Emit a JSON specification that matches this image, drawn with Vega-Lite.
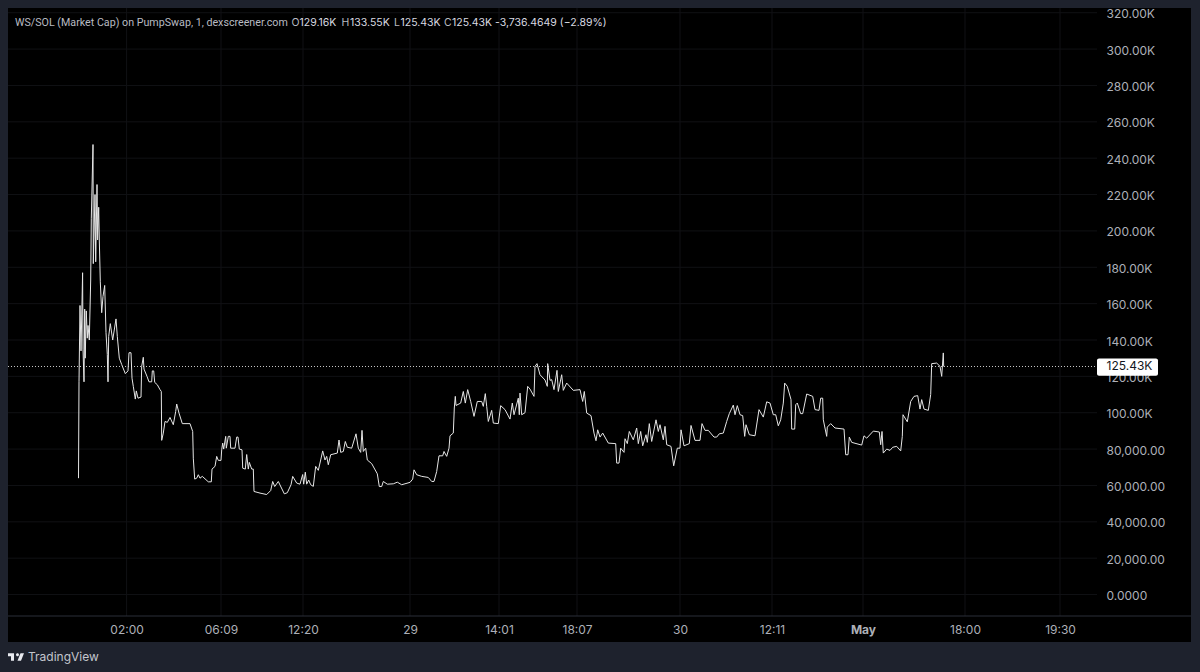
{
  "$schema": "https://vega.github.io/schema/vega-lite/v6.json",
  "width": 1183,
  "height": 634,
  "autosize": "none",
  "padding": {"left": 8, "top": 8, "right": 9, "bottom": 30},
  "background": "#1e222d",
  "config": {
    "view": {"fill": "#000000", "stroke": null},
    "font": "Inter",
    "axis": {"labelFont": "Inter", "labelFontSize": 12, "labelColor": "#adb0b8", "labelOverlap": false}
  },
  "datasets": {
    "price": [
      {"bar":78.5,"mcap":64},{"bar":79,"mcap":117},{"bar":80,"mcap":159},{"bar":81,"mcap":134},{"bar":82.6,"mcap":177},{"bar":83,"mcap":135},{"bar":84,"mcap":117},{"bar":84.7,"mcap":157},{"bar":85.2,"mcap":130},{"bar":86.3,"mcap":156},{"bar":87.3,"mcap":141},{"bar":88,"mcap":148},{"bar":89.3,"mcap":140},{"bar":90.7,"mcap":173},{"bar":91.3,"mcap":207},{"bar":93,"mcap":247.5},{"bar":93.3,"mcap":182},{"bar":95,"mcap":220},{"bar":95.7,"mcap":183},{"bar":97,"mcap":225.5},{"bar":97.6,"mcap":195},{"bar":98.7,"mcap":213},{"bar":99.3,"mcap":195},{"bar":100.3,"mcap":172},{"bar":101.7,"mcap":155},{"bar":103,"mcap":164},{"bar":104.7,"mcap":170},{"bar":106,"mcap":144},{"bar":107.3,"mcap":132},{"bar":108,"mcap":117},{"bar":108.7,"mcap":142},{"bar":110.3,"mcap":149},{"bar":112.7,"mcap":140},{"bar":116,"mcap":151.6},{"bar":117.3,"mcap":142},{"bar":119.3,"mcap":130},{"bar":121.7,"mcap":126.5},{"bar":125.3,"mcap":121.5},{"bar":128,"mcap":123},{"bar":129,"mcap":133},{"bar":131,"mcap":133},{"bar":132,"mcap":119},{"bar":133.3,"mcap":114.5},{"bar":135.3,"mcap":107.5},{"bar":136.3,"mcap":112},{"bar":138,"mcap":108},{"bar":141,"mcap":108.6},{"bar":141.7,"mcap":125.5},{"bar":143.3,"mcap":130.5},{"bar":144,"mcap":124},{"bar":147,"mcap":120},{"bar":149,"mcap":117},{"bar":151.7,"mcap":117},{"bar":152.3,"mcap":123},{"bar":153.7,"mcap":123},{"bar":154.7,"mcap":116.7},{"bar":157.3,"mcap":115.4},{"bar":160,"mcap":112.7},{"bar":161.3,"mcap":111.7},{"bar":161.7,"mcap":84.8},{"bar":163.3,"mcap":88.8},{"bar":165,"mcap":95.2},{"bar":167.3,"mcap":94.7},{"bar":170,"mcap":97.4},{"bar":173.3,"mcap":93.4},{"bar":175.7,"mcap":100.7},{"bar":176.7,"mcap":104.8},{"bar":179,"mcap":99.8},{"bar":182.3,"mcap":94},{"bar":190,"mcap":94},{"bar":192.7,"mcap":89.7},{"bar":193.3,"mcap":75},{"bar":194.7,"mcap":63.5},{"bar":196.7,"mcap":64},{"bar":198.3,"mcap":65.9},{"bar":200,"mcap":64},{"bar":202.3,"mcap":65},{"bar":208.3,"mcap":62},{"bar":211.3,"mcap":62},{"bar":212,"mcap":69},{"bar":215,"mcap":70.5},{"bar":216.7,"mcap":76},{"bar":218.3,"mcap":73.8},{"bar":221,"mcap":73.8},{"bar":221.7,"mcap":79.6},{"bar":222.7,"mcap":83.3},{"bar":223.7,"mcap":80},{"bar":225.7,"mcap":87},{"bar":226.3,"mcap":80.5},{"bar":228.3,"mcap":87},{"bar":230,"mcap":87},{"bar":230.7,"mcap":80.5},{"bar":235,"mcap":80.5},{"bar":236.7,"mcap":86.6},{"bar":238,"mcap":86.6},{"bar":239.3,"mcap":80},{"bar":242,"mcap":79.6},{"bar":242.7,"mcap":69.5},{"bar":245.3,"mcap":69},{"bar":246.7,"mcap":77},{"bar":248.3,"mcap":69},{"bar":249.3,"mcap":72.7},{"bar":251.7,"mcap":69},{"bar":253.3,"mcap":69},{"bar":254,"mcap":56.7},{"bar":260,"mcap":55.8},{"bar":266.7,"mcap":55},{"bar":270.7,"mcap":57.2},{"bar":272.7,"mcap":62.2},{"bar":274.7,"mcap":59.4},{"bar":278.3,"mcap":62.2},{"bar":284.3,"mcap":55.4},{"bar":287.3,"mcap":56},{"bar":291,"mcap":60.4},{"bar":292.7,"mcap":65},{"bar":296.7,"mcap":61.3},
      {"bar":300,"mcap":60.7},{"bar":302.7,"mcap":66},{"bar":303.7,"mcap":60.7},{"bar":305.3,"mcap":67.3},{"bar":306.7,"mcap":60.7},{"bar":308.7,"mcap":63},{"bar":310.7,"mcap":60.4},{"bar":313.3,"mcap":59.5},{"bar":315.7,"mcap":70.5},{"bar":318.3,"mcap":68.3},{"bar":320.7,"mcap":74},{"bar":322.7,"mcap":79},{"bar":325,"mcap":74},{"bar":326.7,"mcap":76},{"bar":328.3,"mcap":71.4},{"bar":330.7,"mcap":76.9},{"bar":337.3,"mcap":77.8},{"bar":339,"mcap":85},{"bar":340.7,"mcap":78.2},{"bar":343.3,"mcap":78.7},{"bar":345.3,"mcap":84.2},{"bar":347.3,"mcap":81},{"bar":351.7,"mcap":80.5},{"bar":356,"mcap":88.4},{"bar":358.3,"mcap":80.5},{"bar":360.7,"mcap":78.2},{"bar":362,"mcap":90.3},{"bar":363.3,"mcap":78.7},{"bar":365.7,"mcap":80.5},{"bar":367.3,"mcap":74},{"bar":371.7,"mcap":72},{"bar":377.3,"mcap":66.4},{"bar":379.3,"mcap":59.4},{"bar":381.7,"mcap":59.4},{"bar":383.3,"mcap":62.2},{"bar":387.3,"mcap":60.7},{"bar":393.3,"mcap":60.9},{"bar":397.3,"mcap":61.8},{"bar":401.7,"mcap":60.4},{"bar":410,"mcap":61.7},{"bar":412.7,"mcap":63.5},{"bar":414,"mcap":68.6},{"bar":416.7,"mcap":65.9},{"bar":421.7,"mcap":65},{"bar":428.3,"mcap":64.4},{"bar":431.7,"mcap":62.2},{"bar":434,"mcap":62.2},{"bar":436.7,"mcap":67.7},{"bar":439,"mcap":76.3},{"bar":442.7,"mcap":76.3},{"bar":444,"mcap":78.7},{"bar":446.7,"mcap":76},{"bar":449,"mcap":80.5},{"bar":450,"mcap":87.3},{"bar":453.3,"mcap":88.8},{"bar":454.3,"mcap":102.6},{"bar":455.3,"mcap":109},{"bar":456,"mcap":104},{"bar":460.7,"mcap":105.3},{"bar":463.3,"mcap":111.7},{"bar":465.3,"mcap":105.3},{"bar":467.7,"mcap":112.7},{"bar":470.7,"mcap":106.2},{"bar":474,"mcap":98},{"bar":477.3,"mcap":106.2},{"bar":481.7,"mcap":106.2},{"bar":483.3,"mcap":103.5},{"bar":485.3,"mcap":110.5},{"bar":486.7,"mcap":103.5},{"bar":488.3,"mcap":95.2},{"bar":491.7,"mcap":101.3},{"bar":493.3,"mcap":94.3},{"bar":498.3,"mcap":94},{"bar":500.7,"mcap":103.9},{"bar":505,"mcap":101.7},{"bar":510,"mcap":96.5},{"bar":512.3,"mcap":105.3},{"bar":514,"mcap":98.9},{"bar":518.3,"mcap":108},{"bar":519.3,"mcap":98.9},{"bar":520,"mcap":110.8},{"bar":521.7,"mcap":98.9},{"bar":525,"mcap":100},{"bar":527.7,"mcap":114.5},{"bar":530,"mcap":113},{"bar":534,"mcap":109},{"bar":535,"mcap":125.5},{"bar":537,"mcap":127},{"bar":540,"mcap":120.9},{"bar":545,"mcap":118},{"bar":547.3,"mcap":114.5},{"bar":547.7,"mcap":127},{"bar":550,"mcap":117.8},{"bar":551.7,"mcap":118.2},{"bar":554,"mcap":112.7},{"bar":557,"mcap":123.3},{"bar":558.3,"mcap":111.7},{"bar":561.7,"mcap":120.9},{"bar":563.3,"mcap":112.3},{"bar":566.7,"mcap":116.3},{"bar":573.3,"mcap":112.3},{"bar":580,"mcap":112.7},{"bar":582.7,"mcap":106.2},{"bar":584.3,"mcap":111.7},{"bar":586.7,"mcap":99.8},{"bar":591,"mcap":98.4},{"bar":594,"mcap":88.8},{"bar":596,"mcap":84.6},{"bar":597.7,"mcap":90.6},
      {"bar":600,"mcap":86.6},{"bar":602.7,"mcap":88.8},{"bar":608.3,"mcap":83.3},{"bar":615.7,"mcap":83},{"bar":616.7,"mcap":72.3},{"bar":619,"mcap":72.3},{"bar":620.7,"mcap":80.5},{"bar":624,"mcap":78.2},{"bar":625,"mcap":85.7},{"bar":627.3,"mcap":83},{"bar":629.3,"mcap":89.7},{"bar":633.3,"mcap":85.1},{"bar":636.7,"mcap":91.6},{"bar":638.3,"mcap":83},{"bar":640.7,"mcap":89.7},{"bar":642.7,"mcap":81.8},{"bar":646,"mcap":87.9},{"bar":647.3,"mcap":83.7},{"bar":649.3,"mcap":94},{"bar":651.7,"mcap":84.2},{"bar":656,"mcap":96.1},{"bar":658.3,"mcap":89.7},{"bar":660,"mcap":93.4},{"bar":663.3,"mcap":85.1},{"bar":665,"mcap":92.5},{"bar":666.7,"mcap":82.4},{"bar":671,"mcap":81.5},{"bar":673.7,"mcap":70.8},{"bar":677.3,"mcap":80.5},{"bar":680,"mcap":80.5},{"bar":681,"mcap":90.6},{"bar":684,"mcap":81.8},{"bar":689.3,"mcap":83},{"bar":691,"mcap":93},{"bar":695,"mcap":84.8},{"bar":700,"mcap":84.8},{"bar":702,"mcap":94},{"bar":705,"mcap":90.3},{"bar":708.3,"mcap":90.3},{"bar":714,"mcap":86.6},{"bar":716.7,"mcap":86.6},{"bar":719.3,"mcap":88.4},{"bar":723.3,"mcap":88.8},{"bar":726.7,"mcap":95.2},{"bar":729.3,"mcap":99.5},{"bar":733.3,"mcap":104.2},{"bar":735,"mcap":98.9},{"bar":737.3,"mcap":103.9},{"bar":740,"mcap":98.9},{"bar":742.7,"mcap":98.4},{"bar":744.7,"mcap":87},{"bar":746,"mcap":93.4},{"bar":749.3,"mcap":87.9},{"bar":755,"mcap":87.3},{"bar":759,"mcap":101.7},{"bar":763.3,"mcap":97.6},{"bar":766.7,"mcap":106},{"bar":770,"mcap":105.3},{"bar":773.3,"mcap":98.9},{"bar":775.7,"mcap":98.9},{"bar":778.3,"mcap":92.8},{"bar":780.7,"mcap":96.1},{"bar":783.3,"mcap":105.3},{"bar":784.7,"mcap":116.3},{"bar":787.3,"mcap":114.5},{"bar":791,"mcap":107.2},{"bar":791.7,"mcap":91},{"bar":794.7,"mcap":91},{"bar":795.7,"mcap":104.4},{"bar":797.3,"mcap":105.3},{"bar":800.7,"mcap":99.5},{"bar":802.7,"mcap":99.5},{"bar":806.7,"mcap":110.3},{"bar":812.7,"mcap":109},{"bar":815,"mcap":101.7},{"bar":819,"mcap":101.3},{"bar":820.7,"mcap":108},{"bar":822.7,"mcap":108},{"bar":823.3,"mcap":96.1},{"bar":826.7,"mcap":87},{"bar":827.3,"mcap":92.1},{"bar":830.7,"mcap":94},{"bar":835,"mcap":91.6},{"bar":844,"mcap":91},{"bar":845.7,"mcap":76.9},{"bar":848,"mcap":76.9},{"bar":849.3,"mcap":86.6},{"bar":851.7,"mcap":83.7},{"bar":861.7,"mcap":82.2},{"bar":864,"mcap":87.3},{"bar":866.7,"mcap":86},{"bar":873.3,"mcap":89.9},{"bar":879.3,"mcap":89.4},{"bar":880.7,"mcap":82.4},{"bar":882,"mcap":89.7},{"bar":883.3,"mcap":77.8},{"bar":886.7,"mcap":80},{"bar":890,"mcap":79.3},{"bar":892.7,"mcap":81},{"bar":896.7,"mcap":81.5},{"bar":900.7,"mcap":79},{"bar":902.3,"mcap":87},{"bar":903,"mcap":98.9},{"bar":907.3,"mcap":95},{"bar":910.7,"mcap":106.2},{"bar":914,"mcap":109},{"bar":917.7,"mcap":109.4},{"bar":920,"mcap":102},{"bar":921.7,"mcap":107.2},{"bar":924,"mcap":102},{"bar":928.3,"mcap":101.3},{"bar":930.7,"mcap":110},{"bar":931.7,"mcap":127},{"bar":936.7,"mcap":127.3},{"bar":940,"mcap":125.5},{"bar":941.7,"mcap":120},{"bar":943.3,"mcap":132.9},{"bar":943.7,"mcap":125.43}
    ],
    "ygrid": [
      {"mcap":0},{"mcap":20},{"mcap":40},{"mcap":60},{"mcap":80},{"mcap":100},{"mcap":120},{"mcap":140},{"mcap":160},{"mcap":180},{"mcap":200},{"mcap":220},{"mcap":240},{"mcap":260},{"mcap":280},{"mcap":300},{"mcap":320}
    ],
    "xgrid": [
      {"bar":126.6},{"bar":221},{"bar":303},{"bar":410},{"bar":499},{"bar":577},{"bar":680},{"bar":772},{"bar":863},{"bar":965},{"bar":1060}
    ],
    "head_title": [
      {"bar":15,"text":"WS/SOL (Market Cap) on PumpSwap, 1, dexscreener.com"}
    ],
    "head_label": [
      {"bar":291.5,"text":"O"},{"bar":341.5,"text":"H"},{"bar":394,"text":"L"},{"bar":444,"text":"C"}
    ],
    "head_value": [
      {"bar":299.5,"text":"129.16K"},{"bar":350,"text":"133.55K"},{"bar":400.5,"text":"125.43K"},{"bar":452,"text":"125.43K"},{"bar":495,"text":"-3,736.4649 (−2.89%)"}
    ]
  },
  "resolve": {"axis": {"x": "shared", "y": "shared"}},
  "layer": [
    {
      "data": {"name": "ygrid"},
      "mark": {"type": "rule", "color": "#101114", "strokeWidth": 1},
      "encoding": {
        "y": {"field": "mcap", "type": "quantitative", "title": null, "scale": {"domain": [-26.1, 322.6], "nice": false, "zero": false}},
        "x": {"datum": 8, "type": "quantitative", "title": null, "scale": {"domain": [8, 1191], "nice": false, "zero": false}},
        "x2": {"datum": 1097}
      }
    },
    {
      "data": {"name": "xgrid"},
      "mark": {"type": "rule", "color": "#101114", "strokeWidth": 1},
      "encoding": {
        "x": {"field": "bar", "type": "quantitative", "title": null, "scale": {"domain": [8, 1191], "nice": false, "zero": false}},
        "y": {"datum": 322.6, "type": "quantitative", "title": null, "scale": {"domain": [-26.1, 322.6], "nice": false, "zero": false}},
        "y2": {"datum": -11.8}
      }
    },
    {
      "data": {"values": [{"mcap": -11.8}]},
      "mark": {"type": "rule", "color": "#2a2e39", "strokeWidth": 1},
      "encoding": {
        "y": {"field": "mcap", "type": "quantitative", "title": null, "scale": {"domain": [-26.1, 322.6], "nice": false, "zero": false}},
        "x": {"datum": 8, "type": "quantitative", "title": null, "scale": {"domain": [8, 1191], "nice": false, "zero": false}},
        "x2": {"datum": 1191}
      }
    },
    {
      "data": {"values": [{"mcap": 125.43}]},
      "mark": {"type": "rule", "color": "#c8c8c8", "strokeWidth": 1, "strokeDash": [1, 2]},
      "encoding": {
        "y": {"field": "mcap", "type": "quantitative", "title": null, "scale": {"domain": [-26.1, 322.6], "nice": false, "zero": false}},
        "x": {"datum": 8, "type": "quantitative", "title": null, "scale": {"domain": [8, 1191], "nice": false, "zero": false}},
        "x2": {"datum": 1097}
      }
    },
    {
      "data": {"name": "price"},
      "mark": {"type": "line", "color": "#e6e6e6", "strokeWidth": 1, "interpolate": "linear"},
      "encoding": {
        "x": {
          "field": "bar",
          "type": "quantitative",
          "title": null,
          "scale": {"domain": [8, 1191], "nice": false, "zero": false},
          "axis": {
            "orient": "bottom",
            "offset": -26,
            "domain": false,
            "ticks": false,
            "grid": false,
            "labelPadding": 8,
            "labelFlush": false,
            "values": [126.6, 221, 303, 410, 499, 577, 680, 772, 863, 965, 1060],
            "labelExpr": "{'126.6':'02:00','221':'06:09','303':'12:20','410':'29','499':'14:01','577':'18:07','680':'30','772':'12:11','863':'May','965':'18:00','1060':'19:30'}[datum.value]",
            "labelFontWeight": {"condition": {"test": "datum.value == 863", "value": "bold"}, "value": "normal"}
          }
        },
        "y": {
          "field": "mcap",
          "type": "quantitative",
          "title": null,
          "scale": {"domain": [-26.1, 322.6], "nice": false, "zero": false},
          "axis": {
            "orient": "right",
            "offset": -85,
            "domain": false,
            "ticks": false,
            "grid": false,
            "labelPadding": 0,
            "labelOffset": 1,
            "labelAlign": "left",
            "labelFlush": false,
            "tickCount": 30,
            "values": [0, 20, 40, 60, 80, 100, 120, 140, 160, 180, 200, 220, 240, 260, 280, 300, 320],
            "labelExpr": "datum.value == 0 ? '0.0000' : datum.value >= 100 ? format(datum.value, '.2f') + 'K' : format(datum.value * 1000, ',.2f')"
          }
        }
      }
    },
    {
      "data": {"values": [{"mcap": 125.43, "text": "125.43K"}]},
      "mark": {"type": "rect", "color": "#ffffff", "cornerRadius": 2},
      "encoding": {
        "x": {"datum": 1097, "type": "quantitative", "title": null, "scale": {"domain": [8, 1191], "nice": false, "zero": false}},
        "x2": {"datum": 1158},
        "y": {"datum": 129.8, "type": "quantitative", "title": null, "scale": {"domain": [-26.1, 322.6], "nice": false, "zero": false}},
        "y2": {"datum": 120.4}
      }
    },
    {
      "data": {"values": [{"mcap": 125.43, "text": "125.43K"}]},
      "mark": {"type": "text", "color": "#131722", "font": "Inter", "fontSize": 12, "align": "left", "baseline": "middle"},
      "encoding": {
        "x": {"datum": 1106.5, "type": "quantitative", "title": null, "scale": {"domain": [8, 1191], "nice": false, "zero": false}},
        "y": {"field": "mcap", "type": "quantitative", "title": null, "scale": {"domain": [-26.1, 322.6], "nice": false, "zero": false}},
        "text": {"field": "text"}
      }
    },
    {
      "data": {"name": "head_title"},
      "mark": {"type": "text", "color": "#b8bbc2", "font": "Roboto", "fontSize": 10.7, "align": "left", "baseline": "middle"},
      "encoding": {
        "x": {"field": "bar", "type": "quantitative", "title": null, "scale": {"domain": [8, 1191], "nice": false, "zero": false}},
        "y": {"datum": 314.2, "type": "quantitative", "title": null, "scale": {"domain": [-26.1, 322.6], "nice": false, "zero": false}},
        "text": {"field": "text"}
      }
    },
    {
      "data": {"name": "head_label"},
      "mark": {"type": "text", "color": "#b8bbc2", "font": "Inter", "fontSize": 10.5, "align": "left", "baseline": "middle"},
      "encoding": {
        "x": {"field": "bar", "type": "quantitative", "title": null, "scale": {"domain": [8, 1191], "nice": false, "zero": false}},
        "y": {"datum": 314.2, "type": "quantitative", "title": null, "scale": {"domain": [-26.1, 322.6], "nice": false, "zero": false}},
        "text": {"field": "text"}
      }
    },
    {
      "data": {"name": "head_value"},
      "mark": {"type": "text", "color": "#d8dae0", "font": "Inter", "fontSize": 10.5, "align": "left", "baseline": "middle"},
      "encoding": {
        "x": {"field": "bar", "type": "quantitative", "title": null, "scale": {"domain": [8, 1191], "nice": false, "zero": false}},
        "y": {"datum": 314.2, "type": "quantitative", "title": null, "scale": {"domain": [-26.1, 322.6], "nice": false, "zero": false}},
        "text": {"field": "text"}
      }
    },
    {
      "data": {"values": [{"text": "TradingView"}]},
      "mark": {"type": "text", "color": "#c3c6cd", "font": "Inter", "fontSize": 12, "align": "left", "baseline": "middle"},
      "encoding": {
        "x": {"datum": 28, "type": "quantitative", "title": null, "scale": {"domain": [8, 1191], "nice": false, "zero": false}},
        "y": {"datum": -34.4, "type": "quantitative", "title": null, "scale": {"domain": [-26.1, 322.6], "nice": false, "zero": false}},
        "text": {"field": "text"}
      }
    },
    {
      "data": {"values": [{"text": "logo"}]},
      "mark": {
        "type": "point",
        "filled": true,
        "opacity": 1,
        "color": "#e8eaef",
        "size": 256,
        "shape": "M-0.25 -0.47H-1V-0.094H-0.625V0.47H-0.25ZM0.625 0.47H0.1875L0.5625 -0.47H1ZM0.1875 -0.094A0.1875 0.1875 0 1 0 0.1875 -0.469A0.1875 0.1875 0 1 0 0.1875 -0.094Z"
      },
      "encoding": {
        "x": {"datum": 16, "type": "quantitative", "title": null, "scale": {"domain": [8, 1191], "nice": false, "zero": false}},
        "y": {"datum": -34.4, "type": "quantitative", "title": null, "scale": {"domain": [-26.1, 322.6], "nice": false, "zero": false}}
      }
    }
  ]
}
